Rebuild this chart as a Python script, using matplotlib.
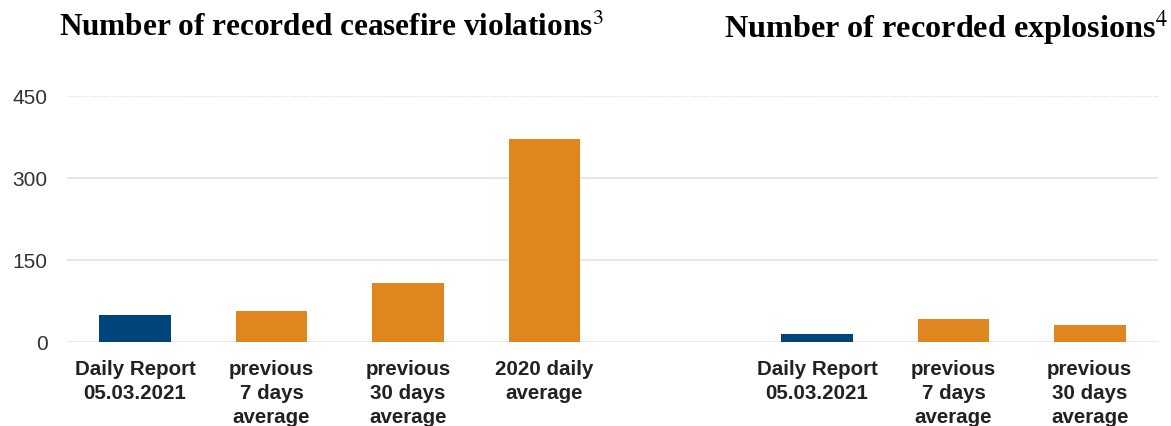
import numpy as np
import matplotlib.pyplot as plt

plt.rcParams['mathtext.fontset'] = 'stix'

# ceasefire violations (left) and explosions (right)
cv_labels = ['Daily Report\n05.03.2021', 'previous\n7 days\naverage',
             'previous\n30 days\naverage', '2020 daily\naverage']
cv_values = [49, 57, 108, 371]
ex_labels = ['Daily Report\n05.03.2021', 'previous\n7 days\naverage',
             'previous\n30 days\naverage']
ex_values = [15, 42, 31]
yticks = [0, 150, 300, 450]

blue = '#00447c'
orange = '#e0861f'

# slot positions along the shared axis (two panels side by side, one empty slot between)
cv_pos = np.arange(len(cv_values))
ex_pos = np.arange(len(ex_values)) + len(cv_values) + 1

fig = plt.figure(figsize=(11.71, 4.26), dpi=100)
ax = fig.add_axes([67/1171, 84/426, (1158-67)/1171, 246/426])

cv_colors = [blue] + [orange] * (len(cv_values) - 1)
ex_colors = [blue] + [orange] * (len(ex_values) - 1)
ax.bar(cv_pos, cv_values, width=0.525, color=cv_colors, zorder=3)
ax.bar(ex_pos, ex_values, width=0.525, color=ex_colors, zorder=3)

ax.set_xlim(-0.5, 7.5)
ax.set_ylim(0, 450)
ax.set_yticks(yticks)
ax.set_yticklabels([str(t) for t in yticks], fontsize=15,
                   fontfamily='Liberation Sans', color='#333333')
for t in yticks[:-1]:
    ax.axhline(t, color='#e4e4e4', lw=1.2, zorder=1)
ax.axhline(yticks[-1], color='#d8d8d8', lw=0.8, ls=(0, (1, 1.5)), zorder=1)

ax.set_xticks(list(cv_pos) + list(ex_pos))
ax.set_xticklabels(cv_labels + ex_labels, fontsize=14.8, fontweight='bold',
                   fontfamily='Liberation Sans', color='#222222',
                   linespacing=1.33)
ax.tick_params(axis='both', length=0)
ax.tick_params(axis='y', pad=14)
ax.tick_params(axis='x', pad=13)
for s in ax.spines.values():
    s.set_visible(False)

fig.text(331/1171, 1 - 28/426, r'Number of recorded ceasefire violations$^{3}$',
         ha='center', va='center', fontsize=22.5, fontweight='bold',
         fontfamily='Liberation Serif')
fig.text(946/1171, 1 - 28/426, r'Number of recorded explosions$^{4}$',
         ha='center', va='center', fontsize=23.2, fontweight='bold',
         fontfamily='Liberation Serif')

fig.savefig('out.png', dpi=100)
